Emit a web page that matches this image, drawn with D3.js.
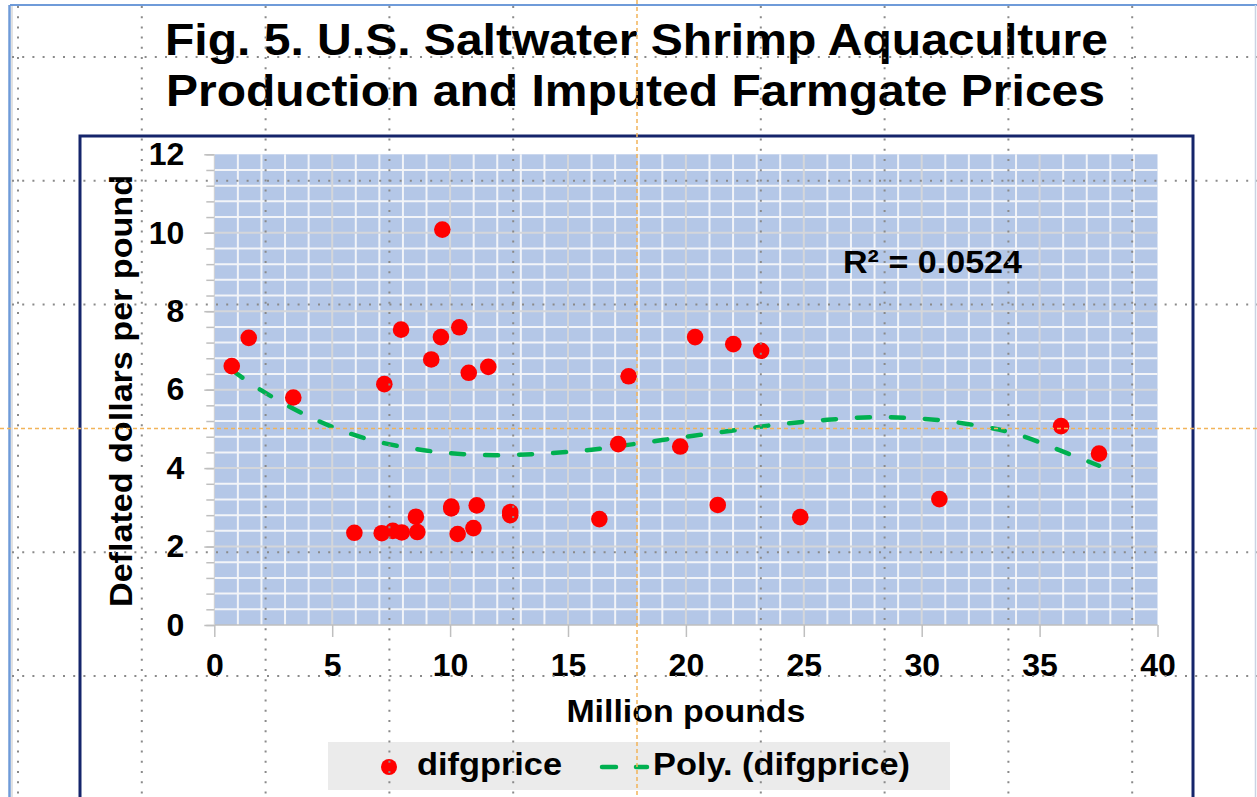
<!DOCTYPE html>
<html><head><meta charset="utf-8">
<script src="https://cdn.jsdelivr.net/npm/d3@7"></script>
<style>html,body{margin:0;padding:0;background:#fff;overflow:hidden;} svg{display:block;}</style>
</head><body>
<svg id="chart" width="1257" height="797"></svg>
<script>
// ---------- data ----------
const xValues = [0.74, 1.46, 3.35, 5.94, 7.10, 7.21, 7.57, 7.92, 7.95, 8.55, 8.61, 9.20, 9.61, 9.67, 10.05, 10.05, 10.32, 10.39, 10.79, 10.99, 11.13, 11.62, 12.55, 12.55, 16.33, 17.13, 17.57, 19.76, 20.39, 21.35, 22.01, 23.19, 24.85, 30.75, 35.91, 37.52];
const yValues = [6.60, 7.32, 5.80, 2.35, 2.34, 6.14, 2.40, 7.53, 2.36, 2.76, 2.37, 6.77, 7.34, 10.08, 3.02, 2.97, 2.32, 7.59, 6.43, 2.47, 3.05, 6.58, 2.88, 2.80, 2.70, 4.61, 6.34, 4.55, 7.34, 3.06, 7.16, 6.99, 2.75, 3.21, 5.07, 4.37];
const trendX = [0.74, 2, 3.5, 5, 6.5, 8, 10, 12, 14, 16, 18, 20, 22, 24, 26, 28, 30, 32, 34, 36, 37.52];
const trendY = [6.50, 5.98, 5.47, 5.05, 4.74, 4.54, 4.38, 4.33, 4.37, 4.47, 4.63, 4.80, 4.96, 5.12, 5.23, 5.30, 5.26, 5.12, 4.87, 4.42, 4.06];
const xTickValues = [0, 5, 10, 15, 20, 25, 30, 35, 40];
const yTickValues = [0, 2, 4, 6, 8, 10, 12];
const titleLines = ["Fig. 5. U.S. Saltwater Shrimp Aquaculture", "Production and Imputed Farmgate Prices"];
const xAxisTitle = "Million pounds";
const yAxisTitle = "Deflated dollars per pound";
const seriesName = "difgprice";
const trendName = "Poly. (difgprice)";
const r2Label = "R\u00B2 = 0.0524";

// ---------- layout ----------
const W = 1257, H = 797;
const FONT = "'Liberation Sans', Arial, sans-serif";
const plot = {left: 214.3, right: 1157.5, top: 154.3, bottom: 625};
const svg = d3.select("#chart");

const x = d3.scaleLinear().domain([0, 40]).range([plot.left, plot.right]);
const y = d3.scaleLinear().domain([0, 12]).range([plot.bottom, plot.top]);

// sheet border
svg.append("line").attr("x1", 10).attr("x2", W).attr("y1", 5).attr("y2", 5)
  .attr("stroke", "#6f9bd9").attr("stroke-width", 2);
svg.append("line").attr("x1", 9.5).attr("x2", 9.5).attr("y1", 5).attr("y2", H)
  .attr("stroke", "#6f9bd9").attr("stroke-width", 2.5);
svg.append("line").attr("x1", 12).attr("x2", 12).attr("y1", 6).attr("y2", H)
  .attr("stroke", "#d8d8d8").attr("stroke-width", 1.5);
svg.append("line").attr("x1", 1255.5).attr("x2", 1255.5).attr("y1", 5).attr("y2", H)
  .attr("stroke", "#c9d3e3").attr("stroke-width", 1.5);

// chart frame
svg.append("rect").attr("x", 80).attr("y", 136).attr("width", 1113).attr("height", 720)
  .attr("fill", "#fff").attr("stroke", "#15256b").attr("stroke-width", 3);

// title
const title = svg.append("g").attr("font-family", FONT).attr("font-weight", "bold").attr("font-size", 44).attr("fill", "#000");
const titleLen = [943, 939];
const titleBase = [55, 106];
titleLines.forEach((t, i) => {
  title.append("text").attr("x", 165 + (i ? 1 : 0)).attr("y", titleBase[i])
    .attr("textLength", titleLen[i]).attr("lengthAdjust", "spacingAndGlyphs").text(t);
});

// plot background
svg.append("rect").attr("x", plot.left).attr("y", plot.top)
  .attr("width", plot.right - plot.left).attr("height", plot.bottom - plot.top)
  .attr("fill", "#b4c7e7");

// grid
const grid = svg.append("g");
const minorX = d3.range(1, 40, 1).filter(v => v % 5 !== 0);
const minorY = d3.range(1, 30, 1).map(v => +(v * 0.4).toFixed(2)).filter(v => Math.abs(v / 2 - Math.round(v / 2)) > 1e-6);
grid.selectAll(".mx").data(minorX).enter().append("line")
  .attr("x1", d => x(d)).attr("x2", d => x(d)).attr("y1", plot.top).attr("y2", plot.bottom)
  .attr("stroke", "#f2f4f8").attr("stroke-width", 2);
grid.selectAll(".my").data(minorY).enter().append("line")
  .attr("y1", d => y(d)).attr("y2", d => y(d)).attr("x1", plot.left).attr("x2", plot.right)
  .attr("stroke", "#f2f4f8").attr("stroke-width", 2);
grid.selectAll(".Mx").data(xTickValues.filter(v => v > 0 && v < 40)).enter().append("line")
  .attr("x1", d => x(d)).attr("x2", d => x(d)).attr("y1", plot.top).attr("y2", plot.bottom)
  .attr("stroke", "#d4d6da").attr("stroke-width", 2);
grid.selectAll(".My").data(yTickValues.filter(v => v > 0 && v < 12)).enter().append("line")
  .attr("y1", d => y(d)).attr("y2", d => y(d)).attr("x1", plot.left).attr("x2", plot.right)
  .attr("stroke", "#d4d6da").attr("stroke-width", 2);

// axes
const yAxis = d3.axisLeft(y).tickValues(yTickValues).tickSize(10).tickPadding(20).tickFormat(d3.format("d"));
const yMinor = d3.axisLeft(y).tickValues(d3.range(0, 31).map(v => +(v * 0.4).toFixed(2))).tickSize(8).tickFormat("");
const xAxis = d3.axisBottom(x).tickValues(xTickValues).tickSize(12).tickPadding(16).tickFormat(d3.format("d"));

const gyMinor = svg.append("g").attr("transform", `translate(${plot.left},0)`).call(yMinor);
const gy = svg.append("g").attr("transform", `translate(${plot.left},0)`).call(yAxis);
const gx = svg.append("g").attr("transform", `translate(0,${plot.bottom})`).call(xAxis);
[gy, gx, gyMinor].forEach(g => {
  g.select(".domain").remove();
  g.selectAll(".tick line").attr("stroke", "#bfbfbf").attr("stroke-width", 1.5);
  g.selectAll("text").attr("font-family", FONT).attr("font-weight", "bold").attr("font-size", 32).attr("fill", "#000");
});
svg.append("line").attr("x1", plot.left).attr("x2", plot.right).attr("y1", plot.bottom).attr("y2", plot.bottom)
  .attr("stroke", "#bfbfbf").attr("stroke-width", 1.5);
svg.append("line").attr("x1", plot.left).attr("x2", plot.left).attr("y1", plot.top).attr("y2", plot.bottom)
  .attr("stroke", "#d0d0d0").attr("stroke-width", 1);

// axis titles
svg.append("text").attr("transform", "translate(132,391) rotate(-90)")
  .attr("text-anchor", "middle").attr("font-family", FONT).attr("font-weight", "bold").attr("font-size", 32)
  .attr("textLength", 432).attr("lengthAdjust", "spacingAndGlyphs").text(yAxisTitle);
svg.append("text").attr("x", (plot.left + plot.right) / 2).attr("y", 722)
  .attr("text-anchor", "middle").attr("font-family", FONT).attr("font-weight", "bold").attr("font-size", 32)
  .attr("textLength", 239).attr("lengthAdjust", "spacingAndGlyphs").text(xAxisTitle);

// trendline
const trendData = trendX.map((v, i) => [v, trendY[i]]);
svg.append("path").datum(trendData)
  .attr("d", d3.line().x(d => x(d[0])).y(d => y(d[1])).curve(d3.curveMonotoneX))
  .attr("fill", "none").attr("stroke", "#00b050").attr("stroke-width", 4.5)
  .attr("stroke-dasharray", "13 21").attr("stroke-linecap", "round");

// points
const pts = xValues.map((v, i) => [v, yValues[i]]);
svg.append("g").selectAll("circle").data(pts).enter().append("circle")
  .attr("cx", d => x(d[0])).attr("cy", d => y(d[1])).attr("r", 8.3).attr("fill", "#ff0000");

// R2 label
svg.append("text").attr("x", 843).attr("y", 273).attr("font-family", FONT).attr("font-weight", "bold")
  .attr("font-size", 32).attr("textLength", 179).attr("lengthAdjust", "spacingAndGlyphs").text(r2Label);

// legend
const lg = svg.append("g");
lg.append("rect").attr("x", 328).attr("y", 742).attr("width", 622).attr("height", 48).attr("fill", "#ebebeb");
lg.append("circle").attr("cx", 389).attr("cy", 767).attr("r", 8).attr("fill", "#ff0000");
lg.append("text").attr("x", 417).attr("y", 775).attr("font-family", FONT).attr("font-weight", "bold")
  .attr("font-size", 32).attr("textLength", 145).attr("lengthAdjust", "spacingAndGlyphs").text(seriesName);
lg.append("line").attr("x1", 602).attr("x2", 647).attr("y1", 767).attr("y2", 767)
  .attr("stroke", "#00b050").attr("stroke-width", 4.5).attr("stroke-dasharray", "14 20").attr("stroke-linecap", "round");
lg.append("text").attr("x", 653).attr("y", 775).attr("font-family", FONT).attr("font-weight", "bold")
  .attr("font-size", 32).attr("textLength", 257).attr("lengthAdjust", "spacingAndGlyphs").text(trendName);

// worksheet page lines (overlay)
const step = 123.8;
const vx = d3.range(0, 10).map(i => 18 + i * step);
const hy = d3.range(0, 6).map(i => 57 + i * step);
const ov = svg.append("g");
ov.append("line").attr("x1", vx[5]).attr("x2", vx[5]).attr("y1", 0).attr("y2", H)
  .attr("stroke", "#f2b45a").attr("stroke-width", 1.5).attr("stroke-dasharray", "4 3");
ov.append("line").attr("y1", hy[3]).attr("y2", hy[3]).attr("x1", 0).attr("x2", W)
  .attr("stroke", "#f2b45a").attr("stroke-width", 1.5).attr("stroke-dasharray", "4 3");
ov.selectAll(".vd").data(vx.filter((d, i) => i !== 5)).enter().append("line")
  .attr("x1", d => d).attr("x2", d => d).attr("y1", 6).attr("y2", H)
  .attr("stroke", "#8a8a8a").attr("stroke-width", 2).attr("stroke-dasharray", "2 8.2");
ov.selectAll(".hd").data(hy.filter((d, i) => i !== 3)).enter().append("line")
  .attr("y1", d => d).attr("y2", d => d).attr("x1", 12).attr("x2", W)
  .attr("stroke", "#8a8a8a").attr("stroke-width", 2).attr("stroke-dasharray", "2 8.2");
</script>
</body></html>
